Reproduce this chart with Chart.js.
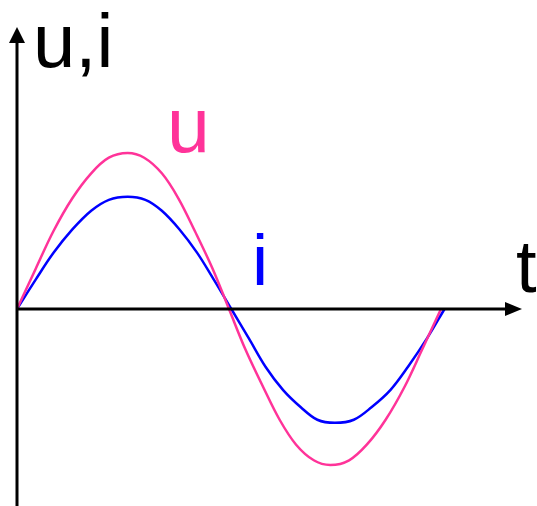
<!DOCTYPE html>
<html>
<head>
<meta charset="utf-8">
<script src="https://cdn.jsdelivr.net/npm/chart.js@4"></script>
<style>
  html, body { margin: 0; padding: 0; background: #fff; }
  #wrap { width: 537px; height: 506px; position: relative; }
</style>
</head>
<body>
<div id="wrap"><canvas id="chart"></canvas></div>
<script>
// time (phase units, u period = 360) and values, u peak = 100
const uTimes = [0, 16, 31, 47, 63, 78, 94, 108, 123, 137, 151, 166, 180, 194, 209, 223, 237, 252, 266, 282, 297, 313, 329, 344, 360];
const uValues = [0, 26, 50, 71, 87, 97, 100, 97, 87, 71, 50, 26, 0, -26, -50, -71, -87, -97, -100, -97, -87, -71, -50, -26, 0];
const iTimes = [0, 16, 31, 47, 63, 78, 94, 109, 123, 138, 153, 167, 182, 197, 211, 226, 241, 255, 270, 286, 301, 317, 332, 348, 363];
const iValues = [0, 19, 36, 51, 63, 70, 72, 70, 63, 51, 36, 19, 0, -19, -37, -52, -63, -71, -73, -71, -63, -52, -37, -19, 0];

const axisLabels = { y: 'u,i', x: 't' };
const seriesLabels = ['u', 'i'];
const uColor = '#ff3399';
const iColor = '#0000ff';

function toPoints(xs, ys) {
    return xs.map(function (x, k) { return { x: x, y: ys[k] }; });
}

const axesPlugin = {
    id: 'arrowAxes',
    afterDatasetsDraw(chart) {
        const ctx = chart.ctx;
        const xs = chart.scales.x;
        const ys = chart.scales.y;
        const x0 = xs.getPixelForValue(0);
        const y0 = ys.getPixelForValue(0);
        const top = chart.chartArea.top;
        const right = chart.chartArea.right;
        const bottom = chart.chartArea.bottom;

        ctx.save();
        ctx.strokeStyle = '#000';
        ctx.fillStyle = '#000';
        ctx.lineWidth = 3;

        // y axis
        ctx.beginPath();
        ctx.moveTo(x0, bottom);
        ctx.lineTo(x0, top + 12);
        ctx.stroke();
        ctx.beginPath();
        ctx.moveTo(x0, top);
        ctx.lineTo(x0 - 8, top + 16);
        ctx.lineTo(x0 + 8, top + 16);
        ctx.closePath();
        ctx.fill();

        // x axis
        ctx.beginPath();
        ctx.moveTo(x0, y0);
        ctx.lineTo(right - 12, y0);
        ctx.stroke();
        ctx.beginPath();
        ctx.moveTo(right, y0);
        ctx.lineTo(right - 17, y0 - 7);
        ctx.lineTo(right - 17, y0 + 7);
        ctx.closePath();
        ctx.fill();

        // labels
        ctx.textBaseline = 'alphabetic';
        ctx.font = '76px "Liberation Sans", Arial, sans-serif';
        ctx.fillStyle = '#000';
        ctx.fillText(axisLabels.y, 33, 67);
        ctx.font = '74px "Liberation Sans", Arial, sans-serif';
        ctx.fillText(axisLabels.x, 516, 292);
        ctx.font = '77px "Liberation Sans", Arial, sans-serif';
        ctx.fillStyle = uColor;
        ctx.fillText(seriesLabels[0], 167, 152);
        ctx.font = '73px "Liberation Sans", Arial, sans-serif';
        ctx.fillStyle = iColor;
        ctx.fillText(seriesLabels[1], 252, 285);
        ctx.restore();
    }
};

new Chart(document.getElementById('chart').getContext('2d'), {
    type: 'line',
    data: {
        datasets: [
            {
                label: seriesLabels[0],
                data: toPoints(uTimes, uValues),
                borderColor: uColor,
                borderWidth: 2.5,
                pointRadius: 0,
                tension: 0.35,
                fill: false
            },
            {
                label: seriesLabels[1],
                data: toPoints(iTimes, iValues),
                borderColor: iColor,
                borderWidth: 2.5,
                pointRadius: 0,
                tension: 0.35,
                fill: false
            }
        ]
    },
    options: {
        responsive: true,
        maintainAspectRatio: false,
        animation: false,
        layout: { padding: { left: 17, right: 15, top: 27, bottom: 0 } },
        plugins: { legend: { display: false }, tooltip: { enabled: false } },
        scales: {
            x: { type: 'linear', min: 0, max: 428.8, display: false },
            y: { min: -126.3, max: 180.8, display: false }
        }
    },
    plugins: [axesPlugin]
});
</script>
</body>
</html>
